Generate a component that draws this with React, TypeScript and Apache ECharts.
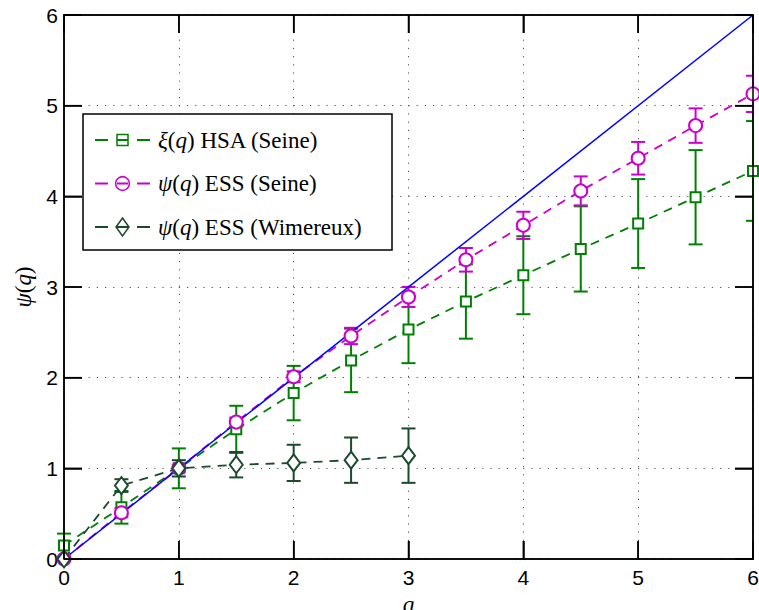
import React, { useEffect, useRef } from "react";
import * as echarts from "echarts";

const qAll = [0, 0.5, 1, 1.5, 2, 2.5, 3, 3.5, 4, 4.5, 5, 5.5, 6];
const hsaSeine = [0.15, 0.57, 1.0, 1.43, 1.83, 2.19, 2.53, 2.84, 3.13, 3.42, 3.7, 3.99, 4.28];
const hsaSeineErr = [0.13, 0.18, 0.22, 0.26, 0.3, 0.35, 0.37, 0.41, 0.43, 0.47, 0.49, 0.52, 0.55];
const essSeine = [0.0, 0.51, 1.0, 1.51, 2.01, 2.46, 2.89, 3.3, 3.68, 4.06, 4.42, 4.78, 5.13];
const essSeineErr = [0.0, 0.05, 0.04, 0.05, 0.06, 0.09, 0.11, 0.13, 0.15, 0.16, 0.18, 0.19, 0.2];
const qWim = [0, 0.5, 1, 1.5, 2, 2.5, 3];
const essWim = [0.0, 0.81, 1.0, 1.04, 1.06, 1.09, 1.14];
const essWimErr = [0.0, 0.07, 0.09, 0.14, 0.2, 0.25, 0.3];
const refLine = [0, 6];
const ticks = [0, 1, 2, 3, 4, 5, 6];

const legendLabels = [
  "{i|ξ}{r|(}{i|q}{r|) HSA (Seine)}",
  "{i|ψ}{r|(}{i|q}{r|) ESS (Seine)}",
  "{i|ψ}{r|(}{i|q}{r|) ESS (Wimereux)}",
];
const legendMarkers = ["square", "circle", "diamond"];

const GREEN = "#008000";
const MAGENTA = "#cc00cc";
const DARK = "#1b4a2c";
const BLUE = "#0000ff";
const legendColors = [GREEN, MAGENTA, DARK];
const SERIF = "'Liberation Serif', 'DejaVu Serif', serif";
const SANS = "'Liberation Sans', Arial, sans-serif";

function errData(xs: number[], ys: number[], es: number[]) {
  return xs
    .map((x, i) => [x, ys[i] - es[i], ys[i] + es[i]])
    .filter((d) => d[2] - d[1] > 0.001);
}

function errSeries(color: string, data: number[][]) {
  return {
    type: "custom",
    name: "err-" + color,
    silent: true,
    encode: { x: 0, y: [1, 2] },
    data,
    renderItem: (_params: any, api: any) => {
      const x = api.value(0);
      const p1 = api.coord([x, api.value(1)]);
      const p2 = api.coord([x, api.value(2)]);
      const edge = api.coord([6, 0])[0];
      const w = 7;
      const style = { stroke: color, lineWidth: 2, fill: "none" };
      return {
        type: "group",
        children: [
          { type: "line", shape: { x1: p1[0], y1: p1[1], x2: p2[0], y2: p2[1] }, style },
          { type: "line", shape: { x1: p1[0] - w, y1: p1[1], x2: Math.min(p1[0] + w, edge), y2: p1[1] }, style },
          { type: "line", shape: { x1: p2[0] - w, y1: p2[1], x2: Math.min(p2[0] + w, edge), y2: p2[1] }, style },
        ],
      };
    },
  };
}

function mkAxis(position: string, main: boolean) {
  return {
    type: "value",
    min: 0,
    max: 6,
    interval: 1,
    position,
    axisLine: { show: true, onZero: false, lineStyle: { color: "#000", width: 1.5 } },
    axisTick: { show: true, inside: true, length: 18, lineStyle: { color: "#000", width: 1.5 } },
    splitLine: main
      ? { show: true, lineStyle: { color: "#555", width: 1, type: [1.2, 7] } }
      : { show: false },
    axisLabel: main
      ? { show: true, fontFamily: SANS, fontSize: 21, color: "#000", margin: position === "left" ? 6 : 8 }
      : { show: false },
  };
}

function legendGraphics(rich: any) {
  const els: any[] = [
    {
      type: "rect",
      z: 100,
      shape: { x: 83, y: 114, width: 309, height: 136 },
      style: { fill: "#fff", stroke: "#000", lineWidth: 1.5 },
    },
  ];
  legendLabels.forEach((label, i) => {
    const y = 140 + i * 43.5;
    const color = legendColors[i];
    els.push({
      type: "line",
      z: 101,
      shape: { x1: 95, y1: y, x2: 150, y2: y },
      style: { stroke: color, lineWidth: 1.8, lineDash: [13, 9, 11, 9, 13] },
    });
    const mk = legendMarkers[i];
    const ms = { fill: "none", stroke: color, lineWidth: 1.5 };
    if (mk === "square") {
      els.push({ type: "rect", z: 101, shape: { x: 117, y: y - 5.5, width: 11, height: 11 }, style: ms });
    } else if (mk === "circle") {
      els.push({ type: "circle", z: 101, shape: { cx: 122.5, cy: y, r: 6.8 }, style: ms });
    } else {
      els.push({
        type: "polygon",
        z: 101,
        shape: { points: [[122.5, y - 9], [129, y], [122.5, y + 9], [116, y]] },
        style: ms,
      });
    }
    els.push({
      type: "text",
      z: 101,
      x: 158,
      y,
      style: {
        text: label,
        fill: "#000",
        fontFamily: SERIF,
        fontSize: 23,
        align: "left",
        verticalAlign: "middle",
        rich,
      },
    });
  });
  return els;
}

function frameGraphics(chart: any) {
  const px = (v: number[]) => chart.convertToPixel({ gridIndex: 0 }, v) as number[];
  const st = { stroke: "#000", lineWidth: 1.5, fill: "none" };
  const L = 18;
  const els: any[] = [];
  const p0 = px([0, 6]);
  const p1 = px([6, 0]);
  if (!p0 || !p1) return els;
  els.push({
    type: "rect",
    z: 90,
    silent: true,
    shape: { x: p0[0], y: p0[1], width: p1[0] - p0[0], height: p1[1] - p0[1] },
    style: st,
  });
  ticks.forEach((v) => {
    const b = px([v, 0]);
    const t = px([v, 6]);
    const l = px([0, v]);
    const r = px([6, v]);
    els.push({ type: "line", z: 90, silent: true, shape: { x1: b[0], y1: b[1], x2: b[0], y2: b[1] - L }, style: st });
    els.push({ type: "line", z: 90, silent: true, shape: { x1: t[0], y1: t[1], x2: t[0], y2: t[1] + L }, style: st });
    els.push({ type: "line", z: 90, silent: true, shape: { x1: l[0], y1: l[1], x2: l[0] + L, y2: l[1] }, style: st });
    els.push({ type: "line", z: 90, silent: true, shape: { x1: r[0], y1: r[1], x2: r[0] - L, y2: r[1] }, style: st });
  });
  return els;
}

export default function App() {
  const ref = useRef<HTMLDivElement>(null);
  useEffect(() => {
    if (!ref.current) return;
    const chart = echarts.init(ref.current, null, { renderer: "svg" });
    const rich = () => ({
      i: { fontStyle: "italic", fontFamily: SERIF, fontSize: 23, fill: "#000", color: "#000" },
      r: { fontFamily: SERIF, fontSize: 23, fill: "#000", color: "#000" },
    });

    const option: any = {
      animation: false,
      grid: { left: 64, right: 6, top: 15, bottom: 51, outerBoundsMode: "none" },
      xAxis: [
        {
          ...mkAxis("bottom", true),
          name: "{i|q}", nameLocation: "middle", nameGap: 23,
          nameTextStyle: { fontFamily: SERIF, fontSize: 23, color: "#000", rich: rich() },
        },
        mkAxis("top", false),
      ],
      yAxis: [
        {
          ...mkAxis("left", true),
          name: "{i|ψ}{r|(}{i|q}{r|)}", nameLocation: "middle", nameGap: 28,
          nameTextStyle: { fontFamily: SERIF, fontSize: 23, color: "#000", rich: rich() },
        },
        mkAxis("right", false),
      ],
      series: [
        errSeries(GREEN, errData(qAll, hsaSeine, hsaSeineErr)),
        {
          type: "line", name: "xiHSA",
          data: qAll.map((x, i) => [x, hsaSeine[i]]),
          symbol: "emptyRect", symbolSize: 10,
          itemStyle: { color: GREEN, borderColor: GREEN, borderWidth: 1.5 },
          lineStyle: { color: GREEN, width: 1.8, type: [9, 7] },
        },
        errSeries(MAGENTA, errData(qAll, essSeine, essSeineErr)),
        {
          type: "line", name: "psiSeine",
          data: qAll.map((x, i) => [x, essSeine[i]]),
          symbol: "emptyCircle", symbolSize: 13,
          itemStyle: { color: MAGENTA, borderColor: MAGENTA, borderWidth: 1.5 },
          lineStyle: { color: MAGENTA, width: 1.8, type: [9, 7] },
        },
        errSeries(DARK, errData(qWim, essWim, essWimErr)),
        {
          type: "line", name: "psiWim",
          data: qWim.map((x, i) => [x, essWim[i]]),
          symbol: "emptyDiamond", symbolSize: [13, 17],
          itemStyle: { color: DARK, borderColor: DARK, borderWidth: 1.5 },
          lineStyle: { color: DARK, width: 1.8, type: [9, 7] },
        },
        {
          type: "line", name: "ref",
          data: refLine.map((x) => [x, x]),
          symbol: "none",
          lineStyle: { color: BLUE, width: 1.5 },
        },
      ],
    };
    chart.setOption(option);
    let frame: any[] = [];
    try {
      frame = frameGraphics(chart);
    } catch (e) {
      frame = [];
    }
    chart.setOption({ graphic: [...frame, ...legendGraphics(rich())] });
    return () => chart.dispose();
  }, []);
  return (
    <div
      ref={ref}
      style={{ position: "fixed", left: 0, top: 0, width: 759, height: 610, background: "#fff" }}
    />
  );
}
